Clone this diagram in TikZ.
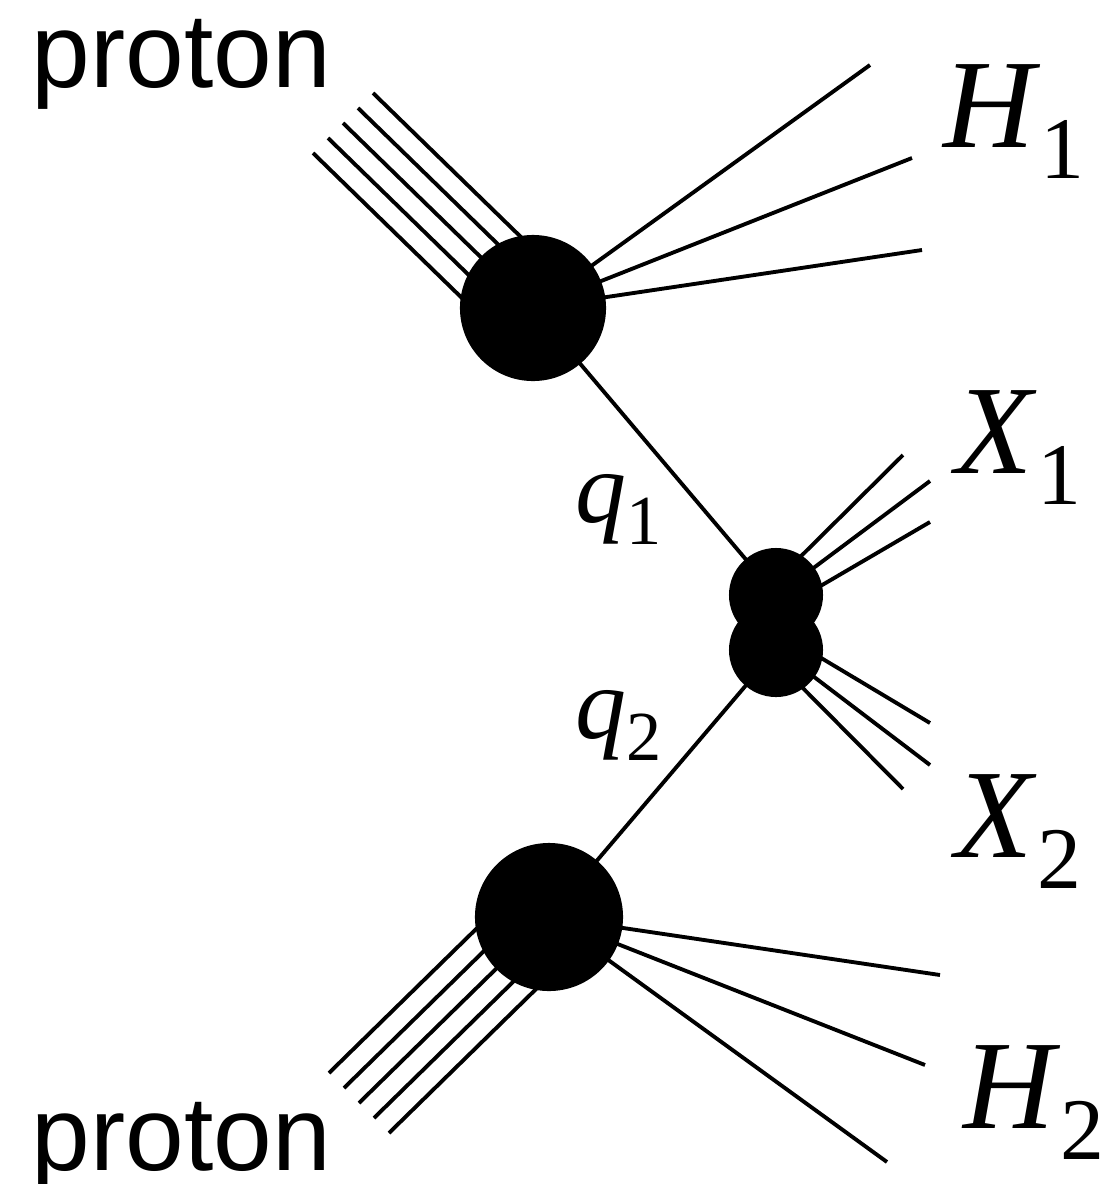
\documentclass[tikz,border=0pt]{standalone}
\usepackage{fontspec}
\setmainfont{Liberation Serif}
\newfontfamily\protonfont{Liberation Sans}
\usepackage{tikz}
\usetikzlibrary{positioning}

\newcommand{\hlabel}[2]{\textit{#1}\raisebox{-9pt}{\fontsize{25}{25}\selectfont #2}}
\newcommand{\qlabel}[2]{\textit{#1}\raisebox{-6.5pt}{\fontsize{20}{20}\selectfont #2}}

\tikzset{
  blob/.style={circle, fill=black, inner sep=0pt},
  leg/.style={line width=1.1pt},
  plbl/.style={anchor=base west, inner sep=0pt, font=\fontsize{30}{30}\selectfont\protonfont},
  hlbl/.style={anchor=base west, inner sep=0pt, font=\fontsize{36}{36}\selectfont},
  qlbl/.style={anchor=base west, inner sep=0pt, font=\fontsize{29}{29}\selectfont}
}

\begin{document}
\begin{tikzpicture}[x=0.01cm, y=-0.01cm]
    \useasboundingbox (0,0) rectangle (1108,1184);
    % blobs
    \node[blob, minimum size=1.46cm] (ptop) at (533,308) {};
    \node[blob, minimum size=1.48cm] (pbot) at (549,917) {};
    \node[blob, minimum size=0.94cm] (mida) at (776,595) {};
    \node[blob, minimum size=0.94cm] (midb) at (776,650) {};
    % free ends
    \coordinate (h1a) at (870,65);
    \coordinate (h1b) at (912,158);
    \coordinate (h1c) at (922,250);
    \coordinate (h2a) at (940,975);
    \coordinate (h2b) at (925,1065);
    \coordinate (h2c) at (887,1162);
    \coordinate (x1a) at (903,455);
    \coordinate (x1b) at (930,481);
    \coordinate (x1c) at (930,522);
    \coordinate (x2a) at (930,723);
    \coordinate (x2b) at (930,765);
    \coordinate (x2c) at (903,789);
    % incoming protons
    \foreach \k in {-2,...,2}
      \draw[leg] (ptop.center) ++(15*\k,-15*\k) -- ++(-190,-185);
    \foreach \k in {-2,...,2}
      \draw[leg] (pbot.center) ++(15*\k,15*\k) -- ++(-190,186);
    % remnants
    \foreach \e in {h1a,h1b,h1c}
      \draw[leg] (ptop.center) -- (\e);
    \foreach \e in {h2a,h2b,h2c}
      \draw[leg] (pbot.center) -- (\e);
    \foreach \e/\d in {x1a/-14,x1b/1,x1c/17}
      \draw[leg] (mida.center) ++(0,\d) -- (\e);
    \foreach \e/\d in {x2a/-19,x2b/-2,x2c/11}
      \draw[leg] (midb.center) ++(0,\d) -- (\e);
    % partons
    \draw[leg] (ptop.center) -- (mida.center);
    \draw[leg] (midb.center) -- (pbot.center);
    % labels
    \node[plbl] (ptoplbl) at (31,87) {proton};
    \node[plbl] (pbotlbl) at (31,1170) {proton};
    \node[hlbl] (H1) at (943,147) {\hlabel{H}{1}};
    \node[hlbl] (X1) at (955,473) {\hlabel{X}{1}};
    \node[hlbl] (X2) at (955,857) {\hlabel{X}{2}};
    \node[hlbl] (H2) at (963,1128) {\hlabel{H}{2}};
    \node[qlbl] (q1) at (575,522) {\qlabel{q}{1}};
    \node[qlbl] (q2) at (575,738) {\qlabel{q}{2}};
\end{tikzpicture}
\end{document}
